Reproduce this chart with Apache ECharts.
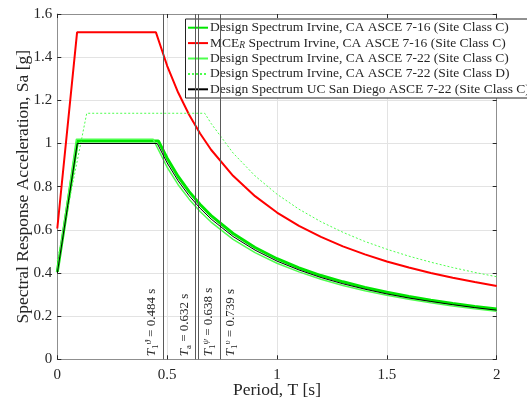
<!DOCTYPE html>
<html>
<head>
<meta charset="utf-8">
<script src="https://cdn.jsdelivr.net/npm/echarts@6/dist/echarts.min.js"></script>
<style>
  html, body { margin: 0; padding: 0; background: #fff; }
  #chart { width: 527px; height: 400px; }
</style>
</head>
<body>
<div id="chart"></div>
<script>
// Response spectra: period T [s] and spectral acceleration Sa [g]
const periodsIrvine716C = [0, 0.092, 0.46, 0.5, 0.55, 0.6, 0.65, 0.7, 0.8, 0.9, 1.0, 1.1, 1.2, 1.3, 1.4, 1.5, 1.6, 1.7, 1.8, 1.9, 2.0];
const saIrvine716C      = [0.405, 1.012, 1.012, 0.932, 0.847, 0.777, 0.717, 0.666, 0.583, 0.518, 0.466, 0.424, 0.388, 0.359, 0.333, 0.311, 0.291, 0.274, 0.259, 0.245, 0.233];

const periodsMceIrvine716C = [0, 0.09, 0.449, 0.5, 0.55, 0.6, 0.65, 0.7, 0.8, 0.9, 1.0, 1.1, 1.2, 1.3, 1.4, 1.5, 1.6, 1.7, 1.8, 1.9, 2.0];
const saMceIrvine716C      = [0.606, 1.515, 1.515, 1.36, 1.236, 1.133, 1.046, 0.971, 0.85, 0.756, 0.68, 0.618, 0.567, 0.523, 0.486, 0.453, 0.425, 0.4, 0.378, 0.358, 0.34];

const periodsIrvine722C = [0, 0.087, 0.436, 0.5, 0.55, 0.6, 0.65, 0.7, 0.8, 0.9, 1.0, 1.1, 1.2, 1.3, 1.4, 1.5, 1.6, 1.7, 1.8, 1.9, 2.0];
const saIrvine722C      = [0.408, 1.02, 1.02, 0.89, 0.809, 0.742, 0.685, 0.636, 0.556, 0.494, 0.445, 0.405, 0.371, 0.342, 0.318, 0.297, 0.278, 0.262, 0.247, 0.234, 0.2225];

const periodsIrvine722D = [0, 0.134, 0.671, 0.7, 0.8, 0.9, 1.0, 1.1, 1.2, 1.3, 1.4, 1.5, 1.6, 1.7, 1.8, 1.9, 2.0];
const saIrvine722D      = [0.456, 1.14, 1.14, 1.093, 0.956, 0.85, 0.765, 0.6955, 0.6375, 0.5885, 0.546, 0.51, 0.478, 0.45, 0.425, 0.4026, 0.3825];

const periodsUcsd722C = [0, 0.091, 0.455, 0.5, 0.55, 0.6, 0.65, 0.7, 0.8, 0.9, 1.0, 1.1, 1.2, 1.3, 1.4, 1.5, 1.6, 1.7, 1.8, 1.9, 2.0];
const saUcsd722C      = [0.4, 1.0, 1.0, 0.91, 0.827, 0.758, 0.7, 0.65, 0.569, 0.506, 0.455, 0.414, 0.379, 0.35, 0.325, 0.303, 0.284, 0.268, 0.253, 0.2395, 0.2275];

const seriesNames = [
  'Design Spectrum Irvine, CA ASCE 7-16 (Site Class C)',
  'MCE_R Spectrum Irvine, CA ASCE 7-16 (Site Class C)',
  'Design Spectrum Irvine, CA ASCE 7-22 (Site Class C)',
  'Design Spectrum Irvine, CA ASCE 7-22 (Site Class D)',
  'Design Spectrum UC San Diego ASCE 7-22 (Site Class C)'
];

// Reference periods shown as vertical lines
const markerPeriods = [0.484, 0.632, 0.638, 0.739];
const markerSubs    = ['1', 'a', '1', '1'];
const markerSups    = ['\u03D1', '', '\u03C8', '\u03C5'];
const markerSides   = ['insideStartTop', 'insideStartTop', 'insideStartBottom', 'insideStartBottom'];

const xTicks = { min: 0, max: 2, interval: 0.5 };
const yTicks = { min: 0, max: 1.6, interval: 0.2 };

const FONT = '"Liberation Serif", "Times New Roman", serif';
const INK = '#262626';

function pairs(ts, vs) { return ts.map((t, i) => [t, vs[i]]); }

const chart = echarts.init(document.getElementById('chart'), null, { renderer: 'canvas' });

const markLineData = markerPeriods.map((p, i) => {
  const sup = markerSups[i] ? '{sup|' + markerSups[i] + '}' : '';
  return {
    xAxis: p,
    label: {
      position: markerSides[i],
      formatter: '{it|T}{sub|' + markerSubs[i] + '}' + sup + '{rm| = ' + p.toFixed(3) + ' s}'
    }
  };
});

const axisCommon = {
  type: 'value',
  axisLine: { show: true, onZero: false, lineStyle: { color: '#8f8f8f', width: 1 } },
  axisTick: { show: true, inside: true, length: 4, lineStyle: { color: INK, width: 1 } },
  splitLine: { show: false }
};

const option = {
  animation: false,
  backgroundColor: '#fff',
  grid: { left: 57.3, right: 30.3, top: 14, bottom: 40.7, outerBoundsMode: 'none' },
  xAxis: [
    Object.assign({}, axisCommon, {
      position: 'bottom', min: xTicks.min, max: xTicks.max, interval: xTicks.interval,
      name: 'Period, T [s]', nameLocation: 'middle', nameGap: 22, nameMoveOverlap: false,
      nameTextStyle: { fontFamily: FONT, fontSize: 17.5, color: INK },
      axisLabel: { fontFamily: FONT, fontSize: 15, color: INK, margin: 8 },
      splitLine: { show: true, lineStyle: { color: '#e3e3e3', width: 1 } }
    }),
    Object.assign({}, axisCommon, {
      position: 'top', min: xTicks.min, max: xTicks.max, interval: xTicks.interval,
      axisLabel: { show: false }
    })
  ],
  yAxis: [
    Object.assign({}, axisCommon, {
      position: 'left', min: yTicks.min, max: yTicks.max, interval: yTicks.interval,
      name: 'Spectral Response Acceleration, Sa [g]', nameLocation: 'middle', nameGap: 25, nameMoveOverlap: false,
      nameTextStyle: { fontFamily: FONT, fontSize: 17.5, color: INK },
      axisLabel: { fontFamily: FONT, fontSize: 15, color: INK, margin: 5 },
      splitLine: { show: true, lineStyle: { color: '#e3e3e3', width: 1 } }
    }),
    Object.assign({}, axisCommon, {
      position: 'right', min: yTicks.min, max: yTicks.max, interval: yTicks.interval,
      axisLabel: { show: false }
    })
  ],
  legend: {
    orient: 'vertical',
    left: 185.5, top: 19,
    data: seriesNames,
    itemWidth: 20, itemHeight: 12, itemGap: 0,
    padding: [1, 2, 1, 1.5],
    backgroundColor: '#fff',
    borderColor: '#222', borderWidth: 1, borderRadius: 0,
    itemStyle: { opacity: 0 },
    formatter: name => name.replace('MCE_R', 'MCE{sub|R}'),
    textStyle: {
      fontFamily: FONT, fontSize: 13.5, color: INK, lineHeight: 15.4,
      padding: [0, 0, 0, -3],
      rich: {
        sub: { fontFamily: FONT, fontSize: 9.5, fontStyle: 'italic', color: INK, verticalAlign: 'bottom', lineHeight: 15.4 }
      }
    }
  },
  series: [
    {
      name: seriesNames[0], type: 'line', symbol: 'none', z: 2,
      data: pairs(periodsIrvine716C, saIrvine716C),
      lineStyle: { color: '#00e600', width: 3 }, itemStyle: { color: '#00e600' },
      markLine: {
        silent: true, symbol: 'none', animation: false,
        lineStyle: { color: '#5a5a5a', width: 1, type: 'solid' },
        label: {
          show: true, distance: 3, fontFamily: FONT, color: INK,
          rich: {
            it:  { fontFamily: FONT, fontSize: 13, fontStyle: 'italic', color: INK },
            sub: { fontFamily: FONT, fontSize: 9, color: INK, verticalAlign: 'bottom', lineHeight: 16 },
            sup: { fontFamily: FONT, fontSize: 9, fontStyle: 'italic', color: INK, verticalAlign: 'top', lineHeight: 16 },
            rm:  { fontFamily: FONT, fontSize: 13, color: INK }
          }
        },
        emphasis: { disabled: true },
        data: markLineData
      }
    },
    {
      name: seriesNames[1], type: 'line', symbol: 'none', z: 3,
      data: pairs(periodsMceIrvine716C, saMceIrvine716C),
      lineStyle: { color: '#ff0000', width: 2 }, itemStyle: { color: '#ff0000' }
    },
    {
      name: seriesNames[2], type: 'line', symbol: 'none', z: 4,
      data: pairs(periodsIrvine722C, saIrvine722C),
      lineStyle: { color: '#4dff4d', width: 1.5 }, itemStyle: { color: '#4dff4d' }
    },
    {
      name: seriesNames[3], type: 'line', symbol: 'none', z: 4,
      data: pairs(periodsIrvine722D, saIrvine722D),
      lineStyle: { color: '#4dff4d', width: 1, type: [2, 2] }, itemStyle: { color: '#4dff4d' }
    },
    {
      name: seriesNames[4], type: 'line', symbol: 'none', z: 5,
      data: pairs(periodsUcsd722C, saUcsd722C),
      lineStyle: { color: '#000000', width: 1 }, itemStyle: { color: '#000000' }
    }
  ]
};

chart.setOption(option);
</script>
</body>
</html>
